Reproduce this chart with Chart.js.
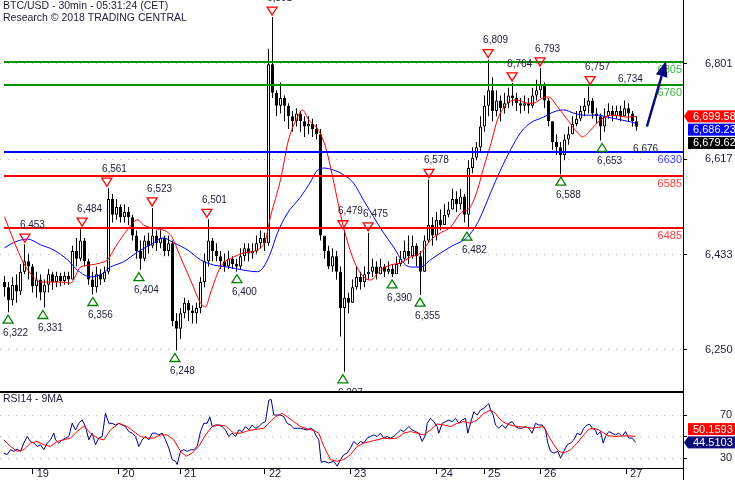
<!DOCTYPE html>
<html>
<head>
<meta charset="utf-8">
<title>BTC/USD 30min</title>
<script src="https://cdn.jsdelivr.net/npm/chart.js@4.4.1/dist/chart.umd.min.js"></script>
<style>
  html, body { margin: 0; padding: 0; background: #fff; }
  #wrap { position: relative; width: 735px; height: 480px; overflow: hidden; }
  #price { position: absolute; left: 0; top: 0; }
  #rsi { position: absolute; left: 0; top: 392px; }
</style>
</head>
<body>
<div id="wrap">
  <canvas id="price" width="735" height="392"></canvas>
  <canvas id="rsi" width="735" height="88"></canvas>
</div>
<script>
// ---- data (30 min candles) ----
const closes = [
  6370, 6345, 6375, 6362, 6400, 6420, 6410, 6372, 6385, 6360,
  6375, 6395, 6380, 6392, 6382, 6392, 6385, 6440, 6425, 6460,
  6420, 6385, 6370, 6395, 6385, 6400, 6540, 6510, 6525, 6505,
  6515, 6505, 6470, 6440, 6425, 6460, 6450, 6470, 6455, 6465,
  6440, 6455, 6305, 6290, 6320, 6340, 6325, 6320, 6330, 6380,
  6420, 6460, 6440, 6430, 6420, 6410, 6425, 6415, 6410, 6430,
  6445, 6435, 6440, 6455, 6465, 6455, 6800, 6745, 6720, 6735,
  6720, 6700, 6690, 6705, 6690, 6680, 6685, 6675, 6665, 6470,
  6440, 6410, 6430, 6400, 6330, 6350, 6340, 6370, 6390, 6380,
  6395, 6400, 6410, 6395, 6410, 6400, 6405, 6395, 6415, 6425,
  6440, 6430, 6450, 6430, 6400, 6460, 6490, 6470, 6500, 6490,
  6510, 6520, 6540, 6530, 6545, 6510, 6600, 6620, 6640, 6680,
  6720, 6750, 6710, 6730, 6715, 6725, 6740, 6735, 6725, 6720,
  6725, 6720, 6740, 6750, 6760, 6730, 6690, 6650, 6640, 6625,
  6655, 6665, 6685, 6695, 6710, 6720, 6730, 6705, 6700, 6680,
  6700, 6710, 6700, 6710, 6700, 6715, 6705, 6690, 6679.62
];
const highs = [
  6392, 6380, 6390, 6395, 6415, 6453, 6435, 6415, 6400, 6395,
  6385, 6405, 6400, 6400, 6398, 6400, 6400, 6450, 6465, 6484,
  6465, 6425, 6400, 6410, 6405, 6410, 6561, 6550, 6540, 6530,
  6530, 6525, 6510, 6480, 6460, 6470, 6475, 6523, 6480, 6480,
  6470, 6470, 6460, 6320, 6330, 6350, 6345, 6335, 6340, 6390,
  6435, 6501, 6465, 6455, 6440, 6435, 6440, 6430, 6425, 6445,
  6455, 6455, 6455, 6470, 6480, 6475, 6830, 6891, 6750, 6765,
  6740, 6725, 6710, 6715, 6710, 6700, 6700, 6695, 6685, 6675,
  6465, 6450, 6445, 6440, 6410, 6479, 6360, 6385, 6410, 6400,
  6410, 6475, 6425, 6420, 6425, 6415, 6420, 6415, 6430, 6440,
  6460, 6470, 6470, 6455, 6440, 6470, 6578, 6505, 6515, 6520,
  6530, 6535, 6560, 6555, 6560, 6550, 6615, 6640, 6650, 6700,
  6740, 6809, 6775, 6750, 6740, 6745, 6755, 6764, 6745, 6735,
  6740, 6735, 6755, 6770, 6793, 6765, 6735, 6690, 6665, 6650,
  6665, 6680, 6700, 6710, 6720, 6735, 6757, 6735, 6715, 6705,
  6715, 6725, 6720, 6720, 6720, 6730, 6725, 6710, 6700
];
const lows = [
  6352, 6322, 6335, 6340, 6355, 6395, 6385, 6360, 6350, 6345,
  6331, 6360, 6365, 6370, 6372, 6375, 6375, 6385, 6410, 6420,
  6410, 6375, 6356, 6360, 6375, 6380, 6395, 6495, 6500, 6495,
  6495, 6490, 6460, 6425, 6404, 6420, 6435, 6445, 6440, 6445,
  6430, 6430, 6295, 6248, 6270, 6310, 6305, 6300, 6300, 6320,
  6370, 6410, 6420, 6420, 6405, 6400, 6405, 6405, 6400, 6405,
  6420, 6420, 6425, 6435, 6445, 6440, 6450, 6735, 6700, 6705,
  6690, 6675, 6670, 6680, 6670, 6660, 6665, 6660, 6655, 6460,
  6425, 6405, 6400, 6385, 6275, 6207, 6320, 6340, 6365, 6365,
  6370, 6385, 6390, 6385, 6395, 6390, 6395, 6390, 6400, 6410,
  6420, 6415, 6425, 6410, 6355, 6400, 6455, 6450, 6460, 6480,
  6490, 6505, 6520, 6515, 6520, 6495, 6482, 6590, 6615, 6630,
  6670, 6700, 6690, 6700, 6690, 6705, 6715, 6720, 6710, 6705,
  6710, 6705, 6715, 6730, 6735, 6715, 6680, 6635, 6625, 6588,
  6615, 6645, 6665, 6680, 6690, 6700, 6705, 6695, 6685, 6653,
  6670, 6695, 6690, 6695, 6690, 6700, 6690, 6680, 6672
];
const firstOpen = 6380;

// moving averages: [candle index, value]
const redMa = [[0,6506],[2.25,6461],[4.75,6417],[7.25,6390],[9,6380],[14,6380],[16.5,6378],[19,6409],[21.5,6413],[24,6417],[25.75,6423],[27.75,6448],[30.75,6481],[33.25,6500],[34.75,6490],[37.25,6484],[41.5,6471],[44,6428],[46.5,6384],[49,6340],[50.25,6332],[51.5,6359],[54,6409],[57.25,6428],[59.75,6436],[63.25,6442],[65.25,6461],[66.5,6506],[69,6577],[71,6654],[73.25,6698],[74.5,6712],[76,6693],[78.5,6673],[80.25,6641],[81.5,6602],[83.25,6538],[84.75,6486],[87.25,6423],[89.75,6390],[91.5,6384],[94,6403],[96.5,6413],[99,6417],[101.5,6428],[104,6436],[106.5,6461],[109,6475],[111.5,6486],[114,6513],[116.5,6525],[118.25,6558],[119.75,6600],[121.5,6644],[123.25,6693],[125.75,6725],[128.25,6731],[130.75,6725],[132.25,6725],[134.5,6735],[136,6737],[138.25,6718],[140.75,6693],[143.25,6668],[144.5,6660],[146.5,6673],[149,6693],[152.25,6702],[155.75,6698],[158,6699.58]];
const blueMa = [[0,6446],[2.25,6456],[5.75,6463],[9,6452],[12.25,6442],[15.75,6423],[18.25,6403],[21.5,6390],[24,6394],[26.5,6409],[29.75,6419],[33.25,6438],[36.5,6452],[39.75,6465],[42.25,6456],[45.75,6442],[49,6423],[52.25,6413],[55.75,6409],[59.75,6403],[63.25,6400],[64.75,6409],[66.5,6436],[68.25,6475],[70.75,6513],[74,6544],[76.5,6573],[78.25,6596],[79.75,6600],[82.25,6596],[84.75,6587],[87.25,6571],[89.75,6538],[92.25,6506],[94.75,6475],[97.25,6448],[99.75,6417],[101.5,6409],[104,6409],[106.5,6423],[109,6436],[111.5,6448],[115.75,6467],[118.25,6494],[119.75,6519],[121.5,6552],[124,6596],[126.5,6635],[129,6668],[131.5,6687],[134.75,6698],[137.25,6708],[139.75,6712],[142.25,6706],[144.75,6702],[148.25,6702],[150.75,6698],[154,6693],[156.5,6689],[158,6686]];

// RSI14 and its 9MA: [candle index, value]
const rsiLine = [[-0.2,34.6],[0.67,33.1],[1.5,37.7],[2.33,36.2],[3.17,38.3],[4,36.2],[4.83,43.9],[5.67,50],[6.5,45.4],[7.33,43.9],[8.17,40.8],[9,42.3],[9.83,37.7],[10.67,43.9],[11.5,46.9],[12.33,53.1],[12.75,46.9],[13.58,43.9],[14.42,46.9],[15.25,48.5],[16.08,50],[16.92,62.3],[17.75,56.1],[18.58,62.3],[19.42,65.4],[20.25,59.2],[21.08,46.9],[21.92,53.1],[22.75,42.3],[23.58,48.5],[24.42,50],[25.25,71.5],[26.08,62.3],[26.92,62.3],[27.75,60.7],[28.58,62.3],[29.42,60.7],[30.25,59.2],[31.08,54.6],[31.92,53.1],[32.75,50],[33.58,40.8],[34.42,46.9],[35.25,50],[36.08,46.9],[36.92,53.1],[37.75,53.1],[38.58,51.5],[39.42,53.1],[40.25,46.9],[41.08,39.3],[41.92,28.5],[42.75,27],[43.17,23.9],[44,36.2],[44.83,37.7],[45.67,36.2],[46.5,37.7],[47.33,37.7],[48.17,40.8],[49,54.6],[49.83,62.3],[50.67,62.3],[51.33,68.4],[51.92,59.2],[52.75,60.7],[53.58,60.7],[54.42,59.2],[55.25,56.1],[56.08,50],[56.92,53.1],[57.75,50],[58.58,56.1],[59.42,54.6],[60.25,59.2],[61.08,56.1],[61.92,60.7],[62.75,57.7],[63.58,59.2],[64.42,62.3],[65.25,63.8],[66.08,83.8],[66.67,84.4],[67.33,70],[68.17,70],[69,70],[69.83,68.4],[70.67,62.3],[71.5,60.7],[72.33,57.7],[73.17,57.7],[74,57.7],[74.83,56.8],[75.67,56.1],[76.5,57.7],[77.33,56.1],[77.75,51.5],[78.58,46.9],[79.17,26],[79.83,27],[81.08,25.4],[82.33,27],[83.17,22.4],[84,28.5],[84.83,33.1],[85.67,34.6],[86.5,39.3],[87.33,45.4],[88.17,42.3],[89,45.4],[89.83,43.9],[90.67,48.5],[91.5,50],[92.33,51.5],[93.17,50],[94,53.1],[94.83,48.5],[95.67,50],[96.5,48.5],[97.33,50],[98.17,53.1],[99,56.1],[99.83,54.6],[101.08,59.2],[101.92,56.1],[102.75,54.6],[103.58,53.1],[104.42,45.4],[105.25,51.5],[105.67,62.3],[106.5,66.9],[107.33,63.8],[108.17,59.2],[108.58,53.1],[109.42,62.3],[110.25,63.8],[111.08,65.4],[111.92,63.8],[112.75,66.9],[113.58,62.3],[114.42,65.4],[115.25,66.9],[115.83,53.1],[116.5,62.3],[117.33,73],[118.17,70],[119,74.6],[119.83,76.1],[120.67,79.2],[121.08,80.7],[121.5,74.6],[122.17,70],[122.75,60.7],[123.58,57.7],[124.42,60.7],[125.25,57.7],[126.08,62.3],[126.92,63.8],[127.75,59.2],[128.58,57.7],[129.42,57.7],[130.25,59.2],[131.08,57.7],[131.92,53.1],[132.75,62.3],[133.58,60.7],[134.42,60.7],[135.25,56.1],[135.83,43.9],[136.5,36.2],[137.33,34.6],[138.33,36.2],[139,30],[139.83,36.2],[140.67,42.3],[141.5,43.9],[142.33,46.9],[143.17,53.1],[144,51.5],[144.83,57.7],[145.67,60.7],[146.33,61.4],[146.92,57.7],[147.75,56.1],[148.17,51.5],[149,54.6],[149.67,43.9],[150.25,50],[151.08,54.6],[151.92,53.1],[152.75,51.5],[153.58,53.1],[154.42,50],[155.25,54.6],[156.08,48.5],[156.92,48.5],[157.75,44.51]];
const rsiMa = [[-0.17,46.9],[1.5,40.8],[3.17,36.2],[4.83,37.7],[6.5,43.9],[8.17,45.4],[9.83,42.3],[11.5,40.8],[13.17,45.4],[14.83,46.9],[16.5,48.5],[18.17,54.6],[19.83,59.8],[21.5,53.1],[23.17,48.5],[24.83,46.9],[26.5,56.1],[28.58,62.3],[30.67,59.2],[32.33,54.6],[34,50],[35.67,48.5],[37.33,48.5],[39,51.5],[40.67,51.5],[42.33,46.9],[44,36.2],[45.42,31.6],[46.92,34.6],[48.58,40.8],[50.25,51.5],[51.92,59.2],[53.58,60.7],[55.25,59.8],[57.33,53.1],[59,53.1],[61.08,55.5],[63.17,56.8],[64.83,57.7],[66.08,62.3],[67.75,68.4],[69.42,71.5],[70.67,68.4],[72.33,63.8],[74,59.2],[75.67,57.1],[77.33,55.5],[78.58,53.1],[79.83,40.8],[81.5,28.5],[83.17,27],[84.83,28.5],[86.5,33.1],[88.17,40.8],[89.83,43.9],[91.5,45.4],[93.17,46.9],[94.83,48.5],[96.5,47.9],[98.17,48.5],[99.83,53.1],[101.5,54.6],[103.17,53.1],[104.83,51.5],[106.5,56.1],[108.17,61.7],[109.83,60.7],[111.5,59.2],[113.17,62.3],[114.83,63.8],[116.5,62.3],[118.17,65.4],[119.83,71.5],[121.5,74.6],[122.75,71.5],[124,65.4],[125.25,62.3],[126.92,60.1],[128.58,59.2],[130.25,58.6],[131.92,57.7],[133.58,58.6],[134.83,59.2],[136.08,50],[137.33,42.3],[138.58,36.2],[139.83,34.6],[141.5,37.7],[143.17,43.9],[144.83,51.5],[146.08,56.8],[147.33,57.7],[148.58,56.1],[149.83,53.1],[151.08,50.6],[152.75,50],[154.42,50.6],[156.08,50.6],[157.75,50.16]];

const lastRedMa = 6699.58, lastBlueMa = 6686.23, lastClose = 6679.62;
const lastRsi = 44.5103, lastRsiMa = 50.1593;

// swing highs / lows flagged on the chart: [candle index, price]
const hiMarks = [[5.1,6453],[19.4,6484],[25.6,6561],[36.9,6523],[50.6,6501],[66.9,6891],[84.6,6479],[90.9,6475],[106.1,6578],[120.9,6809],[126.9,6764],[133.9,6793],[146.4,6757]];
const loMarks = [[0.9,6322],[9.6,6331],[22.1,6356],[33.6,6404],[42.6,6248],[58.1,6400],[84.6,6207],[96.9,6390],[103.9,6355],[115.6,6482],[139.1,6588],[149.4,6653]];
const hiPending = [[154.6,6734]];
const loPending = [[158.4,6676]];

// support / resistance levels
const levels = [6805, 6760, 6630, 6585, 6485];
const levelKinds = ['res', 'res', 'pivot', 'sup', 'sup'];
const arrowFrom = [160.6, 6680];
const arrowTo = [165.4, 6807];

// axes
const priceTicks = [6250, 6433, 6617, 6801];
const rsiTicks = [30, 50, 70];
const dayTicks = [7.05, 28.45, 43.9, 65.1, 86.4, 108.05, 119.9, 133.9, 155.4];
const dayLabels = ['19', '20', '21', '22', '23', '24', '25', '26', '27'];

// ---- styles ----
const FONT = "'Liberation Sans', Arial, sans-serif";
const TEXT = '#1c1c38';
const levelLine = { res: '#009600', pivot: '#0000ff', sup: '#ff0000' };
const levelText = { res: '#3cb43c', pivot: '#3c3cff', sup: '#ff3c3c' };
const xMin = -1.125, xMax = 169.625;   // 4 px per candle over 683 px
const yMin = 6168, yMax = 6924;
Chart.defaults.font.family = FONT;

const opens = closes.map((c, i) => i ? closes[i - 1] : firstOpen);
const fmt = v => v.toLocaleString('en-US');

function priceBox(ctx, left, yc, text, color, pointer) {
  const x0 = left + 5, h = 12;
  ctx.fillStyle = color;
  ctx.fillRect(x0, yc - h / 2, 735 - x0, h);
  if (pointer) {
    ctx.beginPath();
    ctx.moveTo(left + 1, yc);
    ctx.lineTo(x0, yc - h / 2);
    ctx.lineTo(x0, yc + h / 2);
    ctx.closePath();
    ctx.fill();
  }
  ctx.fillStyle = '#fff';
  ctx.font = '11px ' + FONT;
  ctx.textAlign = 'left';
  ctx.textBaseline = 'middle';
  ctx.fillText(text, x0 + 5, yc + 0.5);
}

const priceOverlay = {
  id: 'priceOverlay',
  afterDatasetsDraw(chart) {
    const { ctx, chartArea: a, scales: { x, y } } = chart;
    ctx.save();
    // levels
    ctx.font = '11px ' + FONT;
    levels.forEach((lv, k) => {
      const py = Math.round(y.getPixelForValue(lv));
      ctx.fillStyle = levelLine[levelKinds[k]];
      ctx.fillRect(a.left + 4, py - 1, a.right - a.left - 4, 2);
      ctx.fillStyle = levelText[levelKinds[k]];
      ctx.textAlign = 'right';
      ctx.textBaseline = 'top';
      ctx.fillText(String(lv), a.right - 1, py + 2);
    });
    // swing markers
    ctx.font = '10px ' + FONT;
    ctx.textAlign = 'left';
    ctx.textBaseline = 'middle';
    ctx.lineWidth = 1.3;
    hiMarks.forEach(([i, v]) => {
      const px = x.getPixelForValue(i), py = y.getPixelForValue(v);
      ctx.strokeStyle = '#ff0000';
      ctx.beginPath();
      ctx.moveTo(px - 5, py - 10); ctx.lineTo(px + 5, py - 10); ctx.lineTo(px, py - 2);
      ctx.closePath(); ctx.stroke();
      ctx.fillStyle = TEXT;
      ctx.fillText(fmt(v), px - 5, py - 19);
    });
    loMarks.forEach(([i, v]) => {
      const px = x.getPixelForValue(i), py = y.getPixelForValue(v);
      ctx.strokeStyle = '#008000';
      ctx.beginPath();
      ctx.moveTo(px - 5, py + 11); ctx.lineTo(px + 5, py + 11); ctx.lineTo(px, py + 3);
      ctx.closePath(); ctx.stroke();
      ctx.fillStyle = TEXT;
      ctx.fillText(fmt(v), px - 5, py + 21);
    });
    ctx.fillStyle = TEXT;
    hiPending.forEach(([i, v]) => ctx.fillText(fmt(v), x.getPixelForValue(i) - 5, y.getPixelForValue(v) - 19));
    loPending.forEach(([i, v]) => ctx.fillText(fmt(v), x.getPixelForValue(i) - 5, y.getPixelForValue(v) + 21));
    // projection arrow
    const x1 = x.getPixelForValue(arrowFrom[0]), y1 = y.getPixelForValue(arrowFrom[1]);
    const x2 = x.getPixelForValue(arrowTo[0]), y2 = y.getPixelForValue(arrowTo[1]);
    const len = Math.hypot(x2 - x1, y2 - y1), ux = (x2 - x1) / len, uy = (y2 - y1) / len;
    const hx = x2 - ux * 16, hy = y2 - uy * 16;
    ctx.strokeStyle = '#0a0a78';
    ctx.fillStyle = '#0a0a78';
    ctx.lineWidth = 2.5;
    ctx.beginPath(); ctx.moveTo(x1, y1); ctx.lineTo(hx, hy); ctx.stroke();
    ctx.beginPath();
    ctx.moveTo(x2, y2);
    ctx.lineTo(hx - uy * 6, hy + ux * 6);
    ctx.lineTo(hx + uy * 6, hy - ux * 6);
    ctx.closePath(); ctx.fill();
    ctx.restore();
  },
  afterDraw(chart) {
    const { ctx, chartArea: a, scales: { y } } = chart;
    ctx.save();
    // header
    ctx.fillStyle = TEXT;
    ctx.font = '10.5px ' + FONT;
    ctx.textAlign = 'left';
    ctx.textBaseline = 'middle';
    ctx.fillText('BTC/USD - 30min - 05:31:24 (CET)', 3, 6.5);
    ctx.fillText('Research \u00A9 2018 TRADING CENTRAL', 3, 18.5);
    // panel separator
    ctx.fillStyle = '#000';
    ctx.fillRect(0, a.bottom - 1, a.right + 1, 1);
    // last value boxes
    const yc = y.getPixelForValue(lastRedMa);
    priceBox(ctx, a.right, yc, fmt(lastRedMa), '#ff0000', true);
    priceBox(ctx, a.right, yc + 13.3, fmt(lastBlueMa), '#0000ff', false);
    priceBox(ctx, a.right, yc + 26.6, fmt(lastClose), '#000000', false);
    ctx.restore();
  }
};

new Chart(document.getElementById('price'), {
  type: 'bar',
  data: {
    datasets: [
      {
        type: 'line', label: 'MA fast',
        data: redMa.map(p => ({ x: p[0], y: p[1] })),
        borderColor: '#ff0000', borderWidth: 1, pointRadius: 0,
        tension: 0.4, cubicInterpolationMode: 'monotone', order: 0
      },
      {
        type: 'line', label: 'MA slow',
        data: blueMa.map(p => ({ x: p[0], y: p[1] })),
        borderColor: '#0000ff', borderWidth: 1, pointRadius: 0,
        tension: 0.4, cubicInterpolationMode: 'monotone', order: 0
      },
      {
        label: 'body',
        data: closes.map((c, i) => ({ x: i, y: [opens[i], c] })),
        backgroundColor: closes.map((c, i) => c >= opens[i] ? '#ffffff' : '#000000'),
        borderColor: '#000', borderWidth: 1, borderSkipped: false,
        barThickness: 3, minBarLength: 1, grouped: false, inflateAmount: 0, order: 1
      },
      {
        label: 'wick',
        data: closes.map((c, i) => ({ x: i, y: [lows[i], highs[i]] })),
        backgroundColor: '#000', borderWidth: 0,
        barThickness: 1, grouped: false, inflateAmount: 0, order: 2
      }
    ]
  },
  options: {
    responsive: false,
    animation: false,
    events: [],
    layout: { padding: 0 },
    plugins: { legend: { display: false }, tooltip: { enabled: false } },
    scales: {
      x: { type: 'linear', min: xMin, max: xMax, offset: false, display: false },
      y: {
        position: 'right', min: yMin, max: yMax,
        afterFit: s => { s.width = 52; s.paddingTop = 0; s.paddingBottom = 0; },
        afterBuildTicks: s => { s.ticks = priceTicks.map(v => ({ value: v })); },
        grid: { color: '#b4b4b4', lineWidth: 1, tickLength: 4, tickColor: '#000' },
        border: { color: '#000', width: 1, dash: [1, 7] },
        ticks: { padding: 18, color: TEXT, font: { size: 11 }, callback: v => fmt(v) }
      }
    }
  },
  plugins: [priceOverlay]
});

const rsiOverlay = {
  id: 'rsiOverlay',
  afterDraw(chart) {
    const { ctx, chartArea: a, scales: { y } } = chart;
    ctx.save();
    ctx.fillStyle = '#000';
    ctx.fillRect(0, 0, a.right + 1, 1);
    ctx.fillRect(a.right, a.bottom, 1, 88 - a.bottom);
    ctx.fillStyle = TEXT;
    ctx.font = '10.5px ' + FONT;
    ctx.textAlign = 'left';
    ctx.textBaseline = 'middle';
    ctx.fillText('RSI14 - 9MA', 3, 7.5);
    const yc = y.getPixelForValue(lastRsi);
    priceBox(ctx, a.right, yc - 13.3, lastRsiMa.toFixed(4), '#ff0000', false);
    priceBox(ctx, a.right, yc, lastRsi.toFixed(4), '#0a0a78', true);
    ctx.restore();
  }
};

new Chart(document.getElementById('rsi'), {
  type: 'line',
  data: {
    datasets: [
      {
        label: '9MA', data: rsiMa.map(p => ({ x: p[0], y: p[1] })),
        borderColor: '#ff0000', borderWidth: 1, pointRadius: 0, order: 0
      },
      {
        label: 'RSI14', data: rsiLine.map(p => ({ x: p[0], y: p[1] })),
        borderColor: '#000080', borderWidth: 1, pointRadius: 0, order: 1
      }
    ]
  },
  options: {
    responsive: false,
    animation: false,
    events: [],
    layout: { padding: 0 },
    plugins: { legend: { display: false }, tooltip: { enabled: false } },
    scales: {
      x: {
        type: 'linear', min: xMin, max: xMax, offset: false, position: 'bottom',
        afterFit: s => { s.height = 12; s.paddingLeft = 0; s.paddingRight = 0; },
        afterBuildTicks: s => { s.ticks = dayTicks.map(v => ({ value: v })); },
        grid: { drawOnChartArea: false, drawTicks: true, tickLength: 6, tickColor: '#000', tickWidth: 1 },
        border: { color: '#000', width: 1 },
        ticks: {
          autoSkip: false, maxRotation: 0, align: 'start', labelOffset: 4, padding: -7,
          color: TEXT, font: { size: 11 },
          callback: v => dayLabels[dayTicks.indexOf(v)]
        }
      },
      y: {
        position: 'right', min: 20.7, max: 91.4,
        afterFit: s => { s.width = 52; s.paddingTop = 0; s.paddingBottom = 0; },
        afterBuildTicks: s => { s.ticks = rsiTicks.map(v => ({ value: v })); },
        grid: { color: '#b4b4b4', lineWidth: 1, tickLength: 4, tickColor: '#000' },
        border: { color: '#000', width: 1, dash: [1, 7] },
        ticks: { padding: 33, color: TEXT, font: { size: 11 }, callback: v => v === 50 ? '' : String(v) }
      }
    }
  },
  plugins: [rsiOverlay]
});
</script>
</body>
</html>
